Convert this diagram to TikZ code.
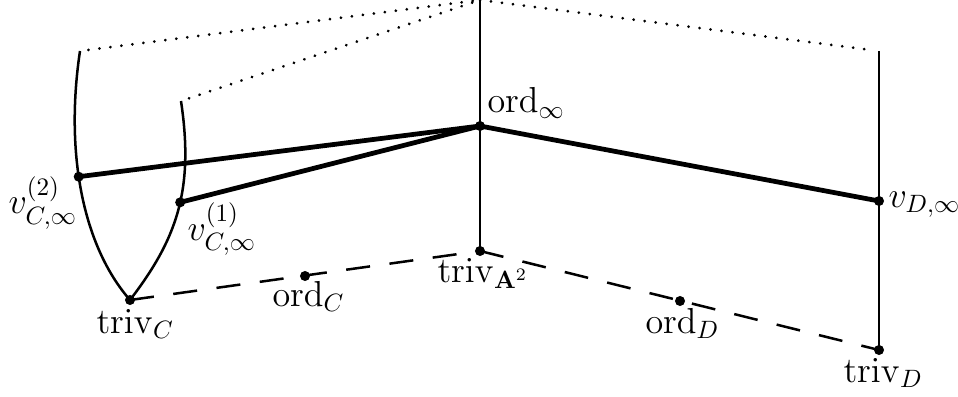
\documentclass[tikz,border=0pt]{standalone}
\usepackage{amsmath}
\begin{document}
\begin{tikzpicture}[x=0.014cm,y=-0.014cm,
  font=\fontsize{13.6pt}{16pt}\selectfont,
  thinline/.style={line width=1pt},
  thickline/.style={line width=1.9pt},
  dashline/.style={line width=1pt,dash pattern=on 9.6pt off 7.8pt},
  dotline/.style={line width=1.2pt,dash pattern=on 0.01pt off 4.4pt,line cap=round},
  pt/.style={circle,fill,inner sep=0pt,minimum size=4pt},
  lab/.style={anchor=base west,inner sep=0pt}]
\useasboundingbox (0,0) rectangle (958,397);

\coordinate (top) at (480,0);
\coordinate (topD) at (879,51);
\coordinate (c2top) at (80,51);
\coordinate (c1top) at (181,101);

% dotted lines at infinity
\draw[dotline,shorten <=3.4pt] (c2top) -- (top);
\draw[dotline,shorten <=3.4pt] (c1top) -- (top);
\draw[dotline,shorten >=3.6pt] (top) -- (topD);

\node[pt] (oinf) at (480,126) {};
\node[pt] (tA) at (480,251) {};
\node[pt] (tC) at (130,300) {};
\node[pt] (oC) at (305,276) {};
\node[pt] (oD) at (680,301) {};
\node[pt] (tD) at (879,350) {};
\node[pt] (vD) at (879,201) {};

% curves through the points v^(2) and v^(1)
\draw[thinline] (c2top) .. controls (65,151) and (82,245) .. (tC.center)
  node[pt,pos=0.44] (v2) {};
\draw[thinline] (c1top) .. controls (194.5,191) and (176,240) .. (tC.center)
  node[pt,pos=0.45] (v1) {};

% vertical lines
\draw[thinline] (top) -- (tA.center);
\draw[thinline] (topD) -- (tD.center);

% thick edges
\draw[thickline] (oinf.center) -- (v2.center);
\draw[thickline] (oinf.center) -- (v1.center);
\draw[thickline] (oinf.center) -- (vD.center);

% dashed
\draw[dashline] (tC.center) -- (tA.center);
\draw[dashline] (tA.center) -- (tD.center);

% labels
\node[lab] (l-oinf) at (487,113) {$\mathrm{ord}_{\infty}$};
\node[lab] (l-tA) at (437,282) {$\mathrm{triv}_{\mathbf{A}^2}$};
\node[lab] (l-tC) at (96,333) {$\mathrm{triv}_{C}$};
\node[lab] (l-oC) at (272,306) {$\mathrm{ord}_{C}$};
\node[lab] (l-oD) at (645,333) {$\mathrm{ord}_{D}$};
\node[lab] (l-tD) at (843,382) {$\mathrm{triv}_{D}$};
\node[lab] (l-vD) at (888,207) {$v_{D,\infty}$};
\node[lab] (l-v2) at (8,214) {$v^{(2)}_{C,\infty}$};
\node[lab] (l-v1) at (187,240) {$v^{(1)}_{C,\infty}$};
\end{tikzpicture}
\end{document}
